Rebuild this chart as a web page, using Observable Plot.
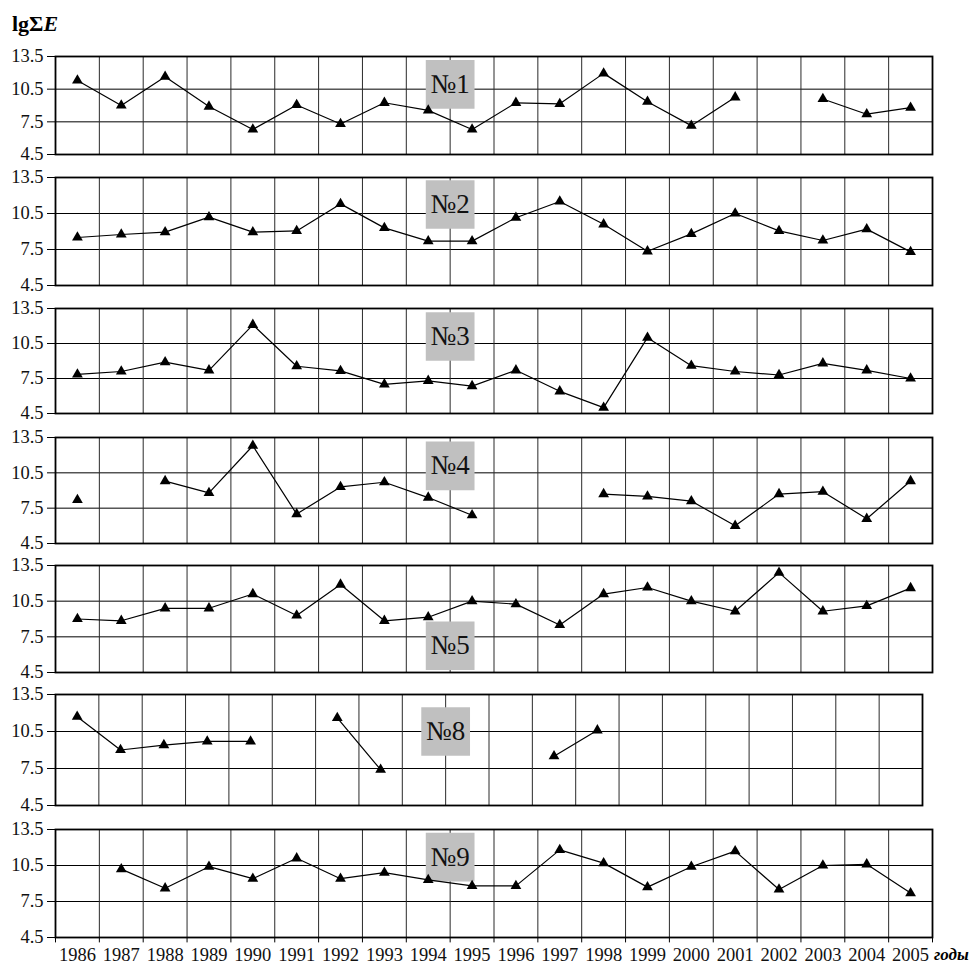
<!DOCTYPE html>
<html>
<head>
<meta charset="utf-8">
<script src="https://cdn.jsdelivr.net/npm/d3@7"></script>
<script src="https://cdn.jsdelivr.net/npm/@observablehq/plot@0.6"></script>
<style>
  body { margin: 0; background: #fff; }
  #wrap { position: relative; width: 976px; height: 970px; font-family: "Liberation Serif", "DejaVu Serif", serif; }
  .panel { position: absolute; left: 0; }
  .panel svg, .panel svg text { font-family: "Liberation Serif", "DejaVu Serif", serif !important; }
  #title { position: absolute; left: 12px; top: 11px; font-size: 22px; font-weight: bold; color: #000; }
  #xlab { position: absolute; left: 934px; top: 945px; font-size: 17px; font-weight: bold; font-style: italic; color: #000; }
</style>
</head>
<body>
<div id="wrap">
  <div id="title">lgΣ<i>E</i></div>
  <div id="xlab">годы</div>
</div>
<script>
// ---- data ----
const years = [1986, 1987, 1988, 1989, 1990, 1991, 1992, 1993, 1994, 1995,
               1996, 1997, 1998, 1999, 2000, 2001, 2002, 2003, 2004, 2005];
const yTicks = [4.5, 7.5, 10.5, 13.5];
const labels = ["№1", "№2", "№3", "№4", "№5", "№8", "№9"];

const s1 = [11.3, 9.0, 11.65, 8.9, 6.8, 9.05, 7.3, 9.25, 8.55, 6.8,
            9.25, 9.15, 11.95, 9.35, 7.15, 9.75, null, 9.6, 8.2, 8.8];
const s2 = [8.5, 8.75, 8.95, 10.2, 8.95, 9.05, 11.3, 9.3, 8.2, 8.2,
            10.15, 11.5, 9.6, 7.35, 8.8, 10.5, 9.05, 8.25, 9.2, 7.3];
const s3 = [7.85, 8.1, 8.9, 8.2, 12.1, 8.55, 8.15, 7.0, 7.3, 6.85,
            8.2, 6.4, 5.0, 11.0, 8.6, 8.1, 7.8, 8.8, 8.2, 7.5];
const s4 = [8.2, null, 9.8, 8.8, 12.8, 7.0, 9.3, 9.7, 8.4, 6.9,
            null, null, 8.7, 8.5, 8.1, 6.0, 8.7, 8.9, 6.6, 9.8];
const s5 = [9.0, 8.85, 9.9, 9.9, 11.1, 9.3, 11.9, 8.85, 9.15, 10.5,
            10.25, 8.5, 11.1, 11.65, 10.5, 9.65, 12.9, 9.65, 10.1, 11.6];
const s8 = [11.7, 9.0, 9.4, 9.7, 9.7, null, 11.6, 7.4, null, null,
            null, 8.5, 10.6, null, null, null, null, null, null, null];
const s9 = [null, 10.2, 8.6, 10.4, 9.4, 11.1, 9.4, 9.9, 9.3, 8.8,
            8.8, 11.8, 10.7, 8.7, 10.4, 11.7, 8.5, 10.5, 10.6, 8.2];
const series = [s1, s2, s3, s4, s5, s8, s9];

// ---- layout (frame tops / heights / label positions) ----
const frameTops = [56, 177, 308, 437, 565, 694, 829];
const frameHeights = [98, 108, 105, 106, 107, 111, 108];
const labelYs = [10.95, 11.25, 11.1, 11.1, 6.75, 10.5, 11.2];
const rightEdges = [932, 932, 932, 932, 932, 922, 932];

const wrap = document.getElementById("wrap");
const FONT = "'Liberation Serif', 'DejaVu Serif', serif";

series.forEach((vals, k) => {
  const last = k === series.length - 1;
  const mt = 8, mb = last ? 40 : 8;
  const rows = years.map((year, i) => ({year, v: vals[i]}));
  const inner = years.slice(0, -1).map(y => y + 0.5);
  const allBounds = [years[0] - 0.5, ...years.map(y => y + 0.5)];
  const lab = [{x: years[8] + 0.5, y: labelYs[k], text: labels[k]}];
  const plot = Plot.plot({
    width: 976,
    height: frameHeights[k] + mt + mb,
    marginLeft: 55,
    marginRight: 976 - rightEdges[k],
    marginTop: mt,
    marginBottom: mb,
    x: {domain: [years[0] - 0.5, years[years.length - 1] + 0.5], axis: null},
    y: {domain: [yTicks[0], yTicks[yTicks.length - 1]], axis: null},
    style: {fontFamily: FONT, fontSize: "18px", color: "#000", background: "transparent", overflow: "visible"},
    marks: [
      Plot.ruleY(yTicks.slice(1, -1), {stroke: "#000", strokeWidth: 1}),
      Plot.ruleX(inner, {stroke: "#2a2a2a", strokeWidth: 1}),
      Plot.axisY({ticks: yTicks, tickFormat: d => d.toFixed(1), tickSize: 8, tickPadding: 4,
                  fontSize: 18.5, fill: "#111", strokeWidth: 1}),
      last ? Plot.ruleX(allBounds, {y1: yTicks[0], y2: yTicks[0] - 0.45, stroke: "#000", strokeWidth: 1}) : null,
      last ? Plot.axisX({ticks: years, tickFormat: d => String(d), tickSize: 0, tickPadding: 10,
                         fontSize: 18.5, fill: "#111"}) : null,
      Plot.dot(lab, {x: "x", y: "y", symbol: "square", r: 27.5, fill: "#c0c0c0", stroke: "none"}),
      Plot.text(lab, {x: "x", y: "y", text: "text", fontSize: 27, fontFamily: FONT, fill: "#111"}),
      Plot.line(rows, {x: "year", y: "v", stroke: "#000", strokeWidth: 1.2}),
      Plot.dot(rows, {x: "year", y: "v", symbol: "triangle", fill: "#000", stroke: "none", r: 4}),
      Plot.frame({stroke: "#000", strokeWidth: 1.8})
    ]
  });
  const div = document.createElement("div");
  div.className = "panel";
  div.style.top = (frameTops[k] - mt) + "px";
  div.appendChild(plot);
  wrap.appendChild(div);
});
</script>
</body>
</html>
